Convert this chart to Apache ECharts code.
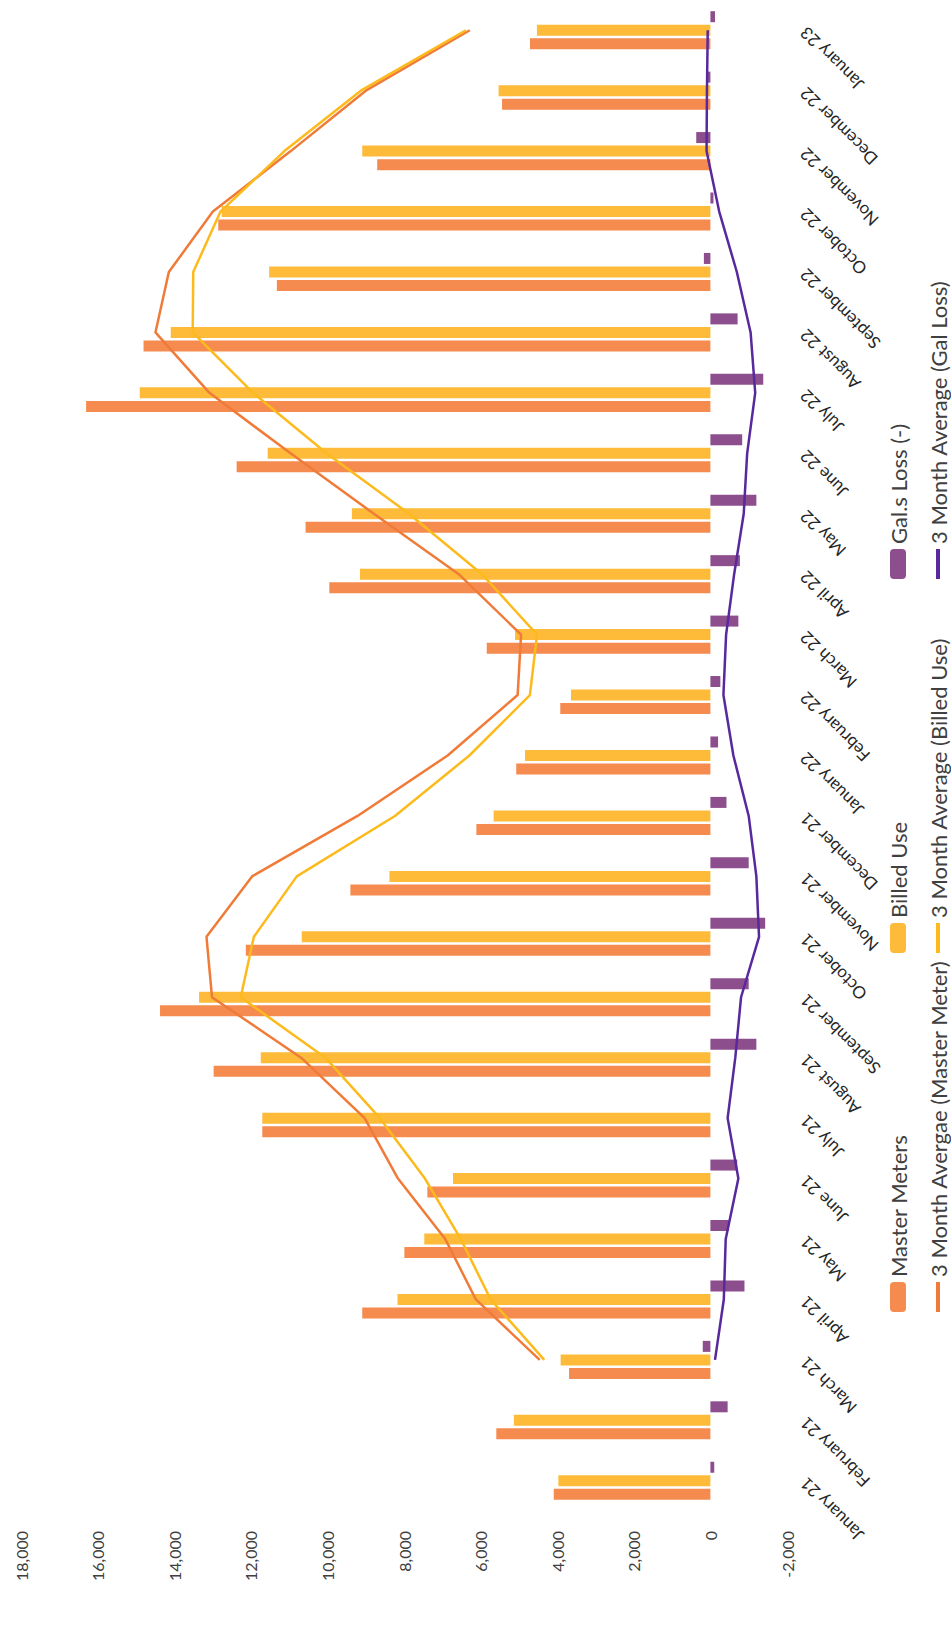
<!DOCTYPE html>
<html>
<head>
<meta charset="utf-8">
<title>Master Meters vs Billed Use</title>
<script src="https://cdn.jsdelivr.net/npm/echarts@6/dist/echarts.min.js"></script>
<style>
  html, body { margin: 0; padding: 0; background: #ffffff; width: 951px; height: 1627px; overflow: hidden; }
  /* the chart is laid out as an ordinary column chart and then turned a quarter turn counter-clockwise */
  #chart {
    position: absolute; left: 0; top: 0;
    width: 1627px; height: 951px;
    transform-origin: 0 0;
    transform: translate(0px, 1627px) rotate(-90deg);
  }
</style>
</head>
<body>
<div id="chart"></div>
<script>
// Monthly gallons, January 2021 - January 2023
const months = [
  'January 21', 'February 21', 'March 21', 'April 21', 'May 21', 'June 21',
  'July 21', 'August 21', 'September 21', 'October 21', 'November 21', 'December 21',
  'January 22', 'February 22', 'March 22', 'April 22', 'May 22', 'June 22',
  'July 22', 'August 22', 'September 22', 'October 22', 'November 22', 'December 22',
  'January 23'
];

const masterMeters = [
  4090, 5590, 3690, 9090, 7990, 7390, 11700, 12970, 14370, 12130, 9400, 6110,
  5070, 3920, 5840, 9950, 10570, 12370, 16300, 14800, 11320, 12850, 8700, 5440,
  4710
];

const billedUse = [
  3970, 5130, 3910, 8170, 7470, 6720, 11700, 11740, 13350, 10670, 8380, 5660,
  4840, 3640, 5100, 9150, 9360, 11560, 14900, 14090, 11520, 12760, 9090, 5530,
  4530
];

const galLoss = [
  -100, -450, 200, -890, -480, -700, 0, -1200, -1000, -1430, -1000, -420,
  -200, -260, -730, -770, -1200, -830, -1380, -710, 170, -80, 370, 70,
  -120
];

const masterAvg = [
  null, null, 4457, 6123, 6923, 8157, 9027, 10687, 13013, 13157, 11967, 9213,
  6860, 5033, 4943, 6570, 8787, 10963, 13080, 14490, 14140, 12990, 10957, 8997,
  6283
];

const billedAvg = [
  null, null, 4337, 5737, 6517, 7453, 8630, 10053, 12263, 11920, 10800, 8237,
  6293, 4713, 4527, 5963, 7870, 10023, 11940, 13517, 13503, 12790, 11123, 9127,
  6383
];

const lossAvg = [
  null, null, -120, -350, -400, -730, -450, -650, -800, -1270, -1200, -1000,
  -600, -340, -410, -620, -870, -960, -1170, -1050, -690, -230, 100, 90,
  70
];

const valueTicks = [-2000, 0, 2000, 4000, 6000, 8000, 10000, 12000, 14000, 16000, 18000];

const FONT = 'Lato, "Open Sans", sans-serif';
const COLORS = {
  master: '#F58B4F',
  billed: '#FDBB39',
  loss: '#8D4E8E',
  masterAvg: '#F07B39',
  billedAvg: '#FDBA1C',
  lossAvg: '#57299C'
};

// one legend block per entry so the entries sit on a fixed three-column grid
function legendItem(name, left, top, isLine) {
  return {
    data: [isLine ? { name: name, icon: 'rect' } : { name: name }],
    left: left,
    top: top,
    padding: 0,
    selectedMode: false,
    itemWidth: 30,
    itemHeight: isLine ? 4 : 16,
    textStyle: { fontFamily: FONT, fontSize: 22, color: '#404040' }
  };
}

const chart = echarts.init(document.getElementById('chart'), null, { renderer: 'svg' });

chart.setOption({
  animation: false,
  backgroundColor: '#ffffff',
  grid: { left: 116, right: -5, top: 21, bottom: 164, containLabel: false },
  xAxis: {
    type: 'category',
    data: months,
    axisLine: { show: false, onZero: false },
    axisTick: { show: false },
    splitLine: { show: false },
    axisLabel: {
      interval: 0,
      rotate: 45,
      margin: 16,
      fontFamily: FONT,
      fontSize: 17,
      color: '#262626'
    }
  },
  yAxis: {
    type: 'value',
    min: valueTicks[0],
    max: valueTicks[valueTicks.length - 1],
    interval: valueTicks[1] - valueTicks[0],
    axisLine: { show: false },
    axisTick: { show: false },
    splitLine: { show: false },
    axisLabel: {
      margin: 20,
      fontFamily: FONT,
      fontSize: 16,
      color: '#404040',
      formatter: v => v.toLocaleString('en-US')
    }
  },
  legend: [
    legendItem('Master Meters', 315, 887, false),
    legendItem('Billed Use', 674, 887, false),
    legendItem('Gal.s Loss (-)', 1048, 887, false),
    legendItem('3 Month Avergae (Master Meter)', 315, 927, true),
    legendItem('3 Month Average (Billed Use)', 674, 927, true),
    legendItem('3 Month Average (Gal Loss)', 1048, 927, true)
  ],
  series: [
    {
      name: 'Master Meters', type: 'bar', data: masterMeters,
      barWidth: 11, barGap: '23%',
      itemStyle: { color: COLORS.master }
    },
    {
      name: 'Billed Use', type: 'bar', data: billedUse,
      barWidth: 11, barGap: '23%',
      itemStyle: { color: COLORS.billed }
    },
    {
      name: 'Gal.s Loss (-)', type: 'bar', data: galLoss,
      barWidth: 11, barGap: '23%',
      itemStyle: { color: COLORS.loss }
    },
    {
      name: '3 Month Avergae (Master Meter)', type: 'line', data: masterAvg,
      symbol: 'none', lineStyle: { width: 2.5, color: COLORS.masterAvg },
      itemStyle: { color: COLORS.masterAvg }
    },
    {
      name: '3 Month Average (Billed Use)', type: 'line', data: billedAvg,
      symbol: 'none', lineStyle: { width: 2.5, color: COLORS.billedAvg },
      itemStyle: { color: COLORS.billedAvg }
    },
    {
      name: '3 Month Average (Gal Loss)', type: 'line', data: lossAvg,
      symbol: 'none', lineStyle: { width: 2.5, color: COLORS.lossAvg },
      itemStyle: { color: COLORS.lossAvg }
    }
  ]
});
</script>
</body>
</html>
